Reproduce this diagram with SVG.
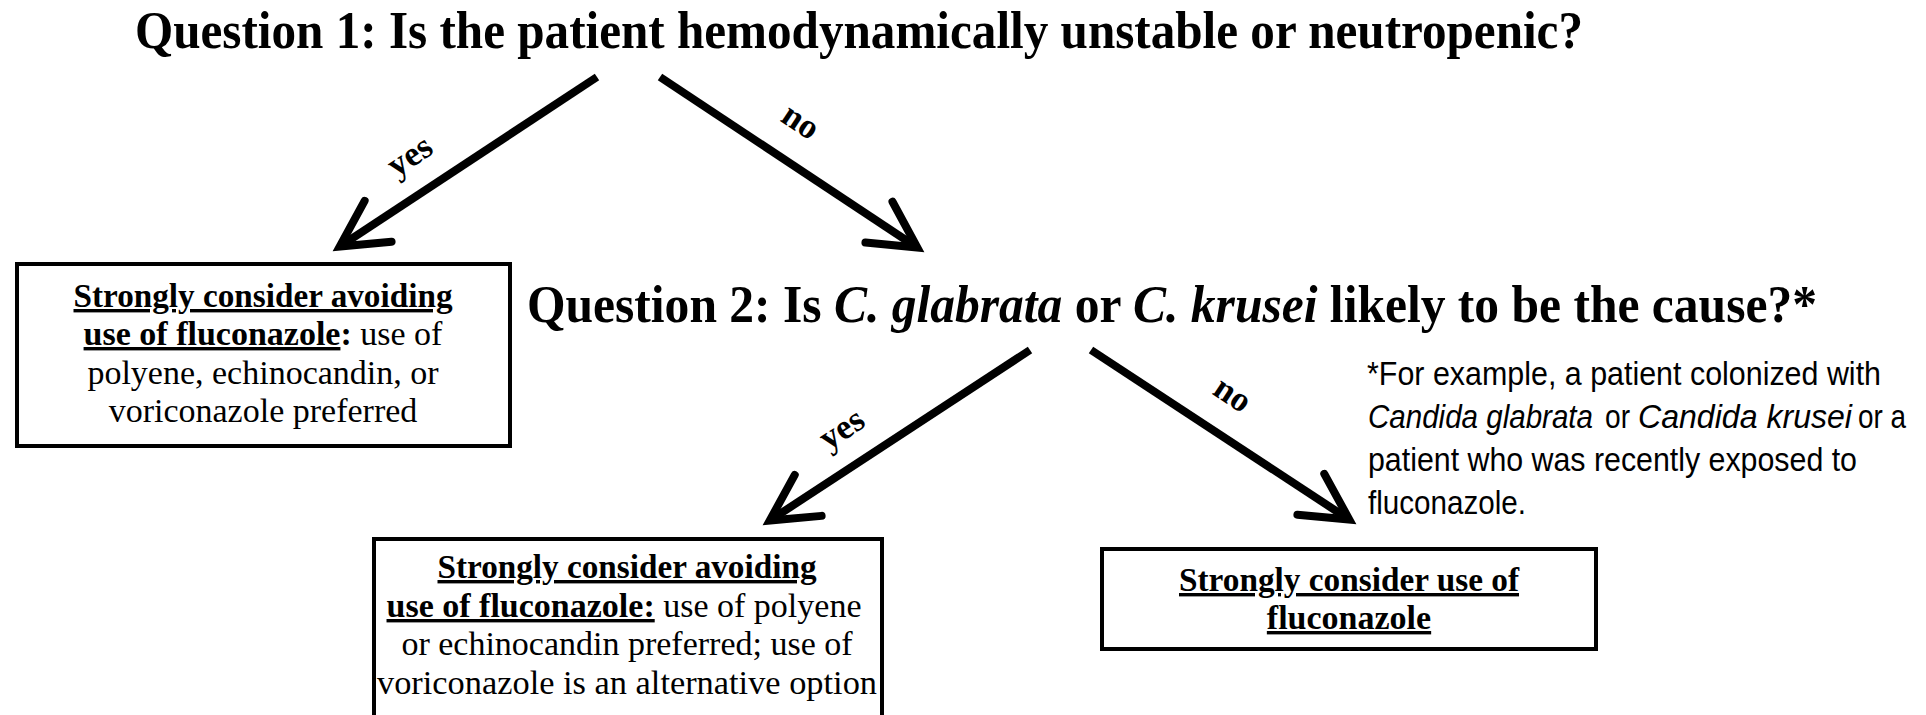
<svg xmlns="http://www.w3.org/2000/svg" width="1926" height="715" viewBox="0 0 1926 715">
<style>
.q{font-family:"Liberation Serif","Times New Roman",serif;font-weight:bold;font-size:52px;fill:#000}
.it{font-style:italic}
.bx{font-family:"Liberation Serif","Times New Roman",serif;font-size:34px;fill:#000;text-anchor:middle}
.b{font-weight:bold}
.u{text-decoration:underline}
.box{fill:#fff;stroke:#000;stroke-width:4}
.arr{fill:none;stroke:#000;stroke-width:8;marker-end:url(#chev)}
.lbl{font-family:"Liberation Serif","Times New Roman",serif;font-weight:bold;font-size:35px;fill:#000;text-anchor:middle}
.fn{font-family:"Liberation Sans",Arial,sans-serif;font-size:34px;fill:#000}
</style>
<defs>
<marker id="chev" viewBox="-60 -35 75 70" markerWidth="75" markerHeight="70" refX="0" refY="0" orient="auto" markerUnits="userSpaceOnUse">
<path d="M-46,-24.5 L0,0 L-46,24.5" fill="none" stroke="#000" stroke-width="8" stroke-linejoin="miter" stroke-miterlimit="10" stroke-linecap="round"/>
</marker>
</defs>
<rect width="1926" height="715" fill="#fff"/>

<g id="q1">
<text class="q" x="135" y="48" textLength="1448" lengthAdjust="spacingAndGlyphs">Question 1: Is the patient hemodynamically unstable or neutropenic?</text>
</g>

<g id="q2">
<text class="q" x="527" y="322" textLength="1290" lengthAdjust="spacingAndGlyphs">Question 2: Is <tspan class="it">C. glabrata</tspan> or <tspan class="it">C. krusei</tspan> likely to be the cause?*</text>
</g>

<g id="box1">
<rect class="box" x="17" y="264" width="493" height="182"/>
<text class="bx" x="263" y="307" textLength="379" lengthAdjust="spacingAndGlyphs"><tspan class="b u">Strongly consider avoiding</tspan></text>
<text class="bx" x="263" y="345"><tspan class="b u">use of fluconazole</tspan><tspan class="b">:</tspan> use of</text>
<text class="bx" x="263" y="384">polyene, echinocandin, or</text>
<text class="bx" x="263" y="422">voriconazole preferred</text>
</g>

<g id="box2">
<rect class="box" x="374" y="539" width="508" height="260"/>
<text class="bx" x="627" y="578" textLength="379" lengthAdjust="spacingAndGlyphs"><tspan class="b u">Strongly consider avoiding</tspan></text>
<text class="bx" x="624" y="617"><tspan class="b u">use of fluconazole:</tspan> use of polyene</text>
<text class="bx" x="627" y="655">or echinocandin preferred; use of</text>
<text class="bx" x="627" y="694" textLength="500" lengthAdjust="spacingAndGlyphs">voriconazole is an alternative option</text>
</g>

<g id="box3">
<rect class="box" x="1102" y="549" width="494" height="100"/>
<text class="bx b u" x="1349" y="591" textLength="340" lengthAdjust="spacingAndGlyphs">Strongly consider use of</text>
<text class="bx b u" x="1349" y="629">fluconazole</text>
</g>

<g id="footnote">
<text class="fn" x="1367" y="385" textLength="514" lengthAdjust="spacingAndGlyphs">*For example, a patient colonized with</text>
<text class="fn" y="428"><tspan class="it" x="1368" textLength="225" lengthAdjust="spacingAndGlyphs">Candida glabrata</tspan><tspan x="1605" textLength="25" lengthAdjust="spacingAndGlyphs">or</tspan><tspan class="it" x="1638" textLength="214" lengthAdjust="spacingAndGlyphs">Candida krusei</tspan><tspan x="1858" textLength="48" lengthAdjust="spacingAndGlyphs">or a</tspan></text>
<text class="fn" x="1368" y="471" textLength="489" lengthAdjust="spacingAndGlyphs">patient who was recently exposed to</text>
<text class="fn" x="1368" y="514" textLength="158" lengthAdjust="spacingAndGlyphs">fluconazole.</text>
</g>

<g id="connectors">
<path class="arr" d="M597,77 L339.7,246.6"/>
<path class="arr" d="M660,77 L917.3,247.6"/>
<path class="arr" d="M1030,350 L769.7,520.6"/>
<path class="arr" d="M1091,350 L1349.3,519.6"/>
<text class="lbl" transform="translate(413,161) rotate(-33.4)" y="5">yes</text>
<text class="lbl" transform="translate(799,124) rotate(33.5)" y="8">no</text>
<text class="lbl" transform="translate(845,434) rotate(-33.2)" y="5">yes</text>
<text class="lbl" transform="translate(1231,397) rotate(33.4)" y="8">no</text>
</g>
</svg>
